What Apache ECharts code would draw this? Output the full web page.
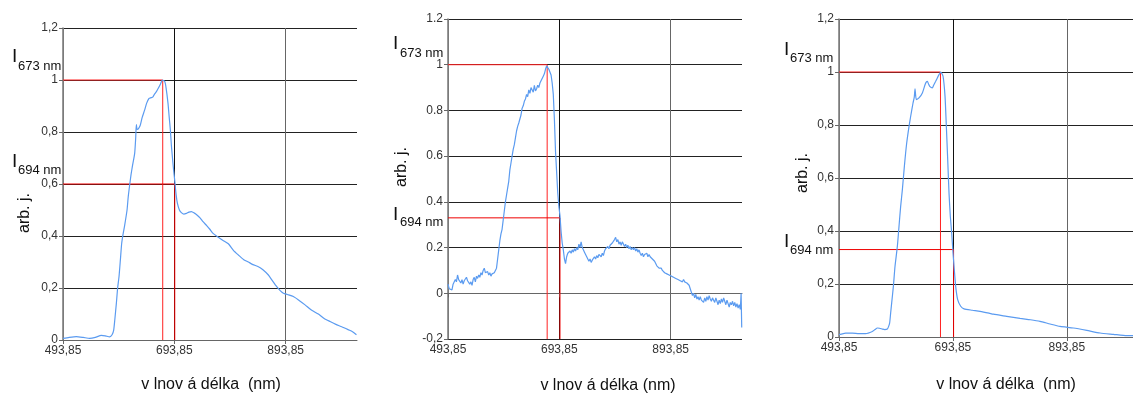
<!DOCTYPE html>
<html><head><meta charset="utf-8">
<script src="https://cdn.jsdelivr.net/npm/echarts@6/dist/echarts.min.js"></script>
<style>html,body{margin:0;padding:0;background:#fff}#c{width:1133px;height:394px}</style>
</head><body><div id="c"></div>
<script>
// ---- data ----
const xTickValues = [493.85, 693.85, 893.85];
const xTickLabels = ['493,85', '693,85', '893,85'];
const xMin = 493.85;
const xMax = [1022, 1022, 1010];

const yTickValues13 = [0, 0.2, 0.4, 0.6, 0.8, 1, 1.2];
const yTickLabels1 = ['0', '0,2', '0,4', '0,6', '0,8', '1', '1,2'];
const yTickLabels3 = ['0', '0,2', '0,4', '0,6', '0,8', '1', '1,2'];
const yTickValues2 = [-0.2, 0, 0.2, 0.4, 0.6, 0.8, 1, 1.2];
const yTickLabels2 = ['-0,2', '0', '0.2', '0.4', '0.6', '0.8', '1', '1.2'];

const xTitles = ['v lnov á délka  (nm)', 'v lnov á délka (nm)', 'v lnov á délka  (nm)'];
const yTitle = 'arb. j.';
const peakLabel = '673 nm';
const bandLabel = '694 nm';

// [wavelength, intensity] of the marked peak (673 nm) and band (694 nm) per panel
const peakMark = [[673, 1.0], [672, 1.0], [672, 1.0]];
const bandMark = [[694.6, 0.6], [695, 0.33], [695, 0.33]];

const spectrum1 = [[493.85,0.006],[505,0.01],[517.8,0.013],[530,0.01],[541.8,0.006],[552,0.01],[562.7,0.018],[570,0.016],[577.7,0.012],[582,0.02],[584.9,0.038],[587,0.08],[589.7,0.141],[592,0.2],[594.5,0.244],[597,0.31],[599.3,0.372],[602,0.41],[604.7,0.442],[608.9,0.5],[611,0.55],[613.6,0.596],[616,0.635],[618.4,0.667],[622.6,0.718],[624.5,0.78],[625.6,0.828],[627,0.81],[629.2,0.812],[632.8,0.827],[636,0.855],[640.6,0.885],[644,0.91],[648.4,0.929],[652,0.932],[655,0.934],[658,0.945],[661.6,0.955],[665,0.968],[669,0.985],[672.4,1.0],[676.6,0.994],[679,0.97],[682.5,0.91],[684.5,0.86],[686.7,0.808],[688.5,0.75],[690.3,0.705],[692.5,0.655],[694.5,0.615],[697,0.56],[699.3,0.526],[703,0.5],[706.5,0.49],[711,0.484],[715.5,0.487],[720,0.492],[724.5,0.494],[730,0.488],[735,0.48],[740,0.47],[745.4,0.455],[752,0.44],[758,0.425],[763.4,0.41],[772.9,0.395],[782,0.382],[790.9,0.37],[800,0.345],[808.9,0.327],[818,0.31],[826.8,0.3],[835,0.29],[844.8,0.282],[853,0.27],[862.8,0.25],[870,0.228],[877.8,0.205],[884,0.19],[889.8,0.18],[897,0.175],[907.7,0.167],[918,0.152],[928.7,0.135],[940,0.115],[952.6,0.1],[963,0.083],[973.6,0.071],[984,0.06],[994.6,0.051],[1006,0.04],[1014,0.032],[1021,0.02]];

const spectrum2 = [[493.85,0.04],[496,0.02],[498.5,0.025],[501,0.015],[503,0.04],[505,0.035],[507,0.06],[509,0.05],[511,0.08],[513,0.06],[515,0.055],[517,0.045],[519,0.06],[521,0.04],[523,0.055],[525,0.05],[527,0.07],[529,0.055],[531,0.06],[533,0.04],[535,0.05],[537,0.035],[539,0.06],[541,0.07],[543,0.05],[545,0.075],[547,0.065],[549,0.08],[551,0.07],[553,0.09],[555,0.08],[557,0.1],[559,0.11],[561,0.09],[563,0.085],[565,0.095],[567,0.08],[569,0.09],[571,0.075],[573,0.085],[575,0.08],[577,0.09],[579,0.085],[581,0.11],[583,0.15],[585,0.19],[587,0.23],[589,0.26],[591,0.28],[593,0.32],[595,0.36],[597,0.4],[599,0.43],[601,0.46],[603,0.49],[605,0.54],[607,0.57],[609,0.6],[611,0.63],[613,0.65],[615,0.68],[617,0.71],[619,0.73],[621,0.745],[623,0.75],[625,0.78],[627,0.81],[629,0.82],[631,0.84],[633,0.85],[635,0.87],[637,0.86],[639,0.89],[641,0.875],[643,0.9],[645,0.905],[647,0.88],[649,0.91],[651,0.885],[653,0.895],[655,0.91],[657,0.9],[659,0.92],[661,0.93],[663,0.935],[665,0.95],[667,0.96],[669,0.98],[671,0.995],[673,1.0],[675,0.98],[677,0.975],[679,0.955],[681,0.92],[683,0.87],[685,0.76],[687,0.62],[689,0.53],[691,0.44],[693,0.38],[695,0.34],[697,0.27],[699,0.22],[701,0.19],[703,0.15],[705,0.13],[707,0.16],[709,0.175],[711,0.17],[713,0.185],[715,0.175],[717,0.19],[719,0.18],[721,0.195],[723,0.185],[725,0.2],[727,0.19],[729,0.215],[731,0.2],[733,0.225],[735,0.2],[737,0.19],[739,0.18],[741,0.17],[743,0.16],[745,0.15],[747,0.14],[749,0.15],[751,0.135],[753,0.145],[755,0.15],[757,0.16],[759,0.15],[761,0.165],[763,0.155],[765,0.17],[767,0.165],[769,0.16],[771,0.175],[773,0.165],[775,0.185],[777,0.195],[779,0.2],[781,0.205],[783,0.195],[785,0.21],[787,0.205],[789,0.22],[791,0.215],[793,0.235],[795,0.245],[797,0.225],[799,0.235],[801,0.215],[803,0.225],[805,0.21],[807,0.225],[809,0.22],[811,0.205],[813,0.215],[815,0.2],[817,0.21],[819,0.195],[821,0.205],[823,0.19],[825,0.2],[827,0.19],[829,0.2],[831,0.185],[833,0.195],[835,0.18],[837,0.19],[839,0.175],[841,0.165],[843,0.175],[845,0.16],[847,0.17],[849,0.165],[851,0.175],[853,0.16],[855,0.17],[857,0.16],[859,0.165],[861,0.15],[863,0.155],[865,0.14],[867,0.13],[869,0.12],[871,0.115],[873,0.11],[875,0.105],[877,0.11],[879,0.1],[881,0.1],[883,0.09],[885,0.095],[887,0.085],[889,0.09],[891,0.08],[893,0.085],[895,0.075],[897,0.08],[899,0.07],[901,0.075],[903,0.065],[905,0.07],[907,0.06],[909,0.065],[911,0.055],[913,0.06],[915,0.05],[917,0.06],[919,0.05],[921,0.055],[923,0.045],[925,0.05],[927,0.035],[929,0.02],[931,0.005],[933,-0.01],[935,0.0],[937,-0.02],[939,-0.005],[941,-0.025],[943,-0.015],[945,-0.03],[947,-0.015],[949,-0.03],[951,-0.025],[953,-0.04],[955,-0.02],[957,-0.035],[959,-0.015],[961,-0.03],[963,-0.01],[965,-0.025],[967,-0.035],[969,-0.02],[971,-0.03],[973,-0.04],[975,-0.02],[977,-0.035],[979,-0.05],[981,-0.03],[983,-0.045],[985,-0.025],[987,-0.04],[989,-0.02],[991,-0.035],[993,-0.05],[995,-0.03],[997,-0.045],[999,-0.06],[1001,-0.04],[1003,-0.05],[1005,-0.035],[1007,-0.055],[1009,-0.04],[1011,-0.06],[1013,-0.045],[1015,-0.065],[1017,-0.05],[1019,-0.07],[1020.4,0.0],[1021.5,-0.15]];

const spectrum3 = [[493.85,0.009],[505.6,0.015],[517.3,0.015],[529,0.013],[540.7,0.013],[552.4,0.021],[557,0.028],[561.2,0.034],[565,0.033],[570,0.03],[574,0.028],[578.7,0.03],[581,0.04],[582.8,0.053],[584.5,0.09],[586.3,0.128],[589.3,0.191],[592.2,0.267],[596.3,0.342],[599.2,0.418],[602.1,0.493],[605.1,0.556],[608.6,0.644],[612.7,0.732],[616.8,0.795],[619.7,0.833],[623.8,0.883],[626,0.905],[627.3,0.936],[629.6,0.896],[634.3,0.902],[640.2,0.921],[644.9,0.952],[647,0.962],[649,0.965],[651,0.955],[653.1,0.946],[657.7,0.94],[660,0.95],[663.6,0.965],[669.4,0.99],[672.4,1.0],[676.5,0.984],[680,0.908],[682.3,0.795],[684.7,0.669],[687,0.543],[689.3,0.455],[691.7,0.392],[694,0.317],[695.8,0.267],[698.7,0.191],[702.2,0.141],[707.5,0.116],[713.3,0.106],[728,0.101],[741.4,0.097],[757.2,0.09],[764.8,0.086],[788.3,0.078],[811.7,0.07],[830,0.065],[846.8,0.059],[864.4,0.049],[882,0.04],[905.3,0.034],[928.8,0.025],[952.2,0.015],[975.6,0.01],[999.1,0.005],[1010,0.005]];

// ---- chart ----
const spectra = [spectrum1, spectrum2, spectrum3];
const yVals = [yTickValues13, yTickValues2, yTickValues13];
const yLabs = [yTickLabels1, yTickLabels2, yTickLabels3];
const yMin = [0, -0.2, 0];
const grids = [
  {left: 63, top: 28, width: 294, height: 312},
  {left: 448, top: 19, width: 294, height: 320},
  {left: 839, top: 19, width: 294, height: 318}
];
const FONT = '"Liberation Sans", Arial, sans-serif';
function fmt(vals, labels) {
  return v => { const i = vals.findIndex(t => Math.abs(t - v) < 1e-6); return i < 0 ? '' : labels[i]; };
}
const xAxes = [], yAxes = [], series = [];
for (let i = 0; i < 3; i++) {
  xAxes.push({
    type: 'value', gridIndex: i, min: xMin, max: xMax[i],
    axisLine: {show: true, lineStyle: {color: '#666', width: 1}},
    axisTick: {show: true, length: 4, lineStyle: {color: '#666'}, customValues: xTickValues},
    axisLabel: {customValues: xTickValues, formatter: fmt(xTickValues, xTickLabels), color: '#333', fontFamily: FONT, fontSize: 12, margin: 5},
    splitLine: {show: true, lineStyle: {color: ['#888', '#111', '#666'], width: 1}}
  });
  yAxes.push({
    type: 'value', gridIndex: i, min: yMin[i], max: 1.2, interval: 0.2,
    axisLine: {show: true, lineStyle: {color: '#777', width: 1.5}},
    axisTick: {show: true, length: 4, lineStyle: {color: '#666'}},
    axisLabel: {formatter: fmt(yVals[i], yLabs[i]), color: '#333', fontFamily: FONT, fontSize: 12, margin: 5},
    splitLine: {show: true, lineStyle: {color: '#222', width: 1}}
  });
  const ymin = yMin[i];
  series.push({
    type: 'line', xAxisIndex: i, yAxisIndex: i, data: [[xMin, peakMark[i][1]], peakMark[i], [peakMark[i][0], ymin]],
    showSymbol: false, silent: true, z: 3, lineStyle: {color: '#ff2020', width: 1}
  });
  series.push({
    type: 'line', xAxisIndex: i, yAxisIndex: i, data: [[xMin, bandMark[i][1]], bandMark[i], [bandMark[i][0], ymin]],
    showSymbol: false, silent: true, z: 3, lineStyle: {color: '#ee0000', width: 1}
  });
  series.push({
    type: 'line', xAxisIndex: i, yAxisIndex: i, data: spectra[i],
    showSymbol: false, silent: true, z: 4, smooth: i === 1 ? false : 0.2,
    lineStyle: {color: '#5b9bf0', width: 1.2}
  });
}
function txt(x, y, text, size, extra) {
  return Object.assign({type: 'text', x: x, y: y, z: 100,
    style: {text: text, font: size + 'px ' + FONT, fill: '#111', textAlign: 'left', textVerticalAlign: 'middle'}}, extra || {});
}
const labelPos = [
  {I1: [12, 57], s1: [18, 66], I2: [12, 162], s2: [18, 170], ay: [25, 213], xt: [211, 385]},
  {I1: [393, 44], s1: [400, 53], I2: [393, 215], s2: [400, 222], ay: [402, 167], xt: [608, 386]},
  {I1: [784, 50], s1: [790, 58], I2: [784, 242], s2: [790, 250], ay: [803, 173], xt: [1006, 385]}
];
const graphic = [];
labelPos.forEach((p, i) => {
  graphic.push(txt(p.I1[0], p.I1[1], 'I', 19));
  graphic.push(txt(p.s1[0], p.s1[1], peakLabel, 13));
  graphic.push(txt(p.I2[0], p.I2[1], 'I', 19));
  graphic.push(txt(p.s2[0], p.s2[1], bandLabel, 13));
  graphic.push({type: 'text', x: p.ay[0], y: p.ay[1], rotation: Math.PI / 2, z: 100,
    style: {text: yTitle, font: '16px ' + FONT, fill: '#111', textAlign: 'center', textVerticalAlign: 'middle'}});
  graphic.push({type: 'text', x: p.xt[0], y: p.xt[1], z: 100,
    style: {text: xTitles[i], font: '16px ' + FONT, fill: '#111', textAlign: 'center', textVerticalAlign: 'middle'}});
});
const chart = echarts.init(document.getElementById('c'));
chart.setOption({
  animation: false,
  backgroundColor: '#fff',
  grid: grids,
  xAxis: xAxes,
  yAxis: yAxes,
  series: series,
  graphic: graphic
});
</script>
</body></html>
